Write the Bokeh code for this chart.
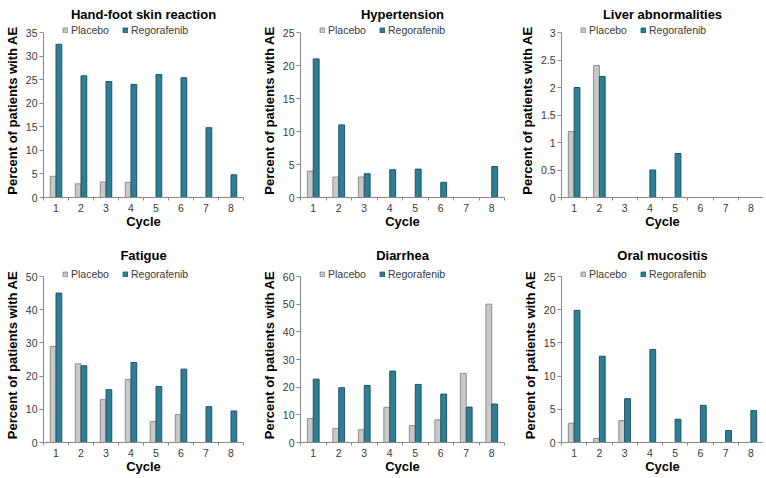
from bokeh.plotting import figure
from bokeh.layouts import gridplot
from bokeh.models import (Range1d, FixedTicker, NumeralTickFormatter, Legend,
                          LegendItem, ColumnDataSource)
from bokeh.transform import dodge
from bokeh.embed import file_html
from bokeh.resources import INLINE

# ---------------- data ----------------
cycles = [1, 2, 3, 4, 5, 6, 7, 8]
series_names = ["Placebo", "Regorafenib"]

titles = ["Hand-foot skin reaction", "Hypertension", "Liver abnormalities",
          "Fatigue", "Diarrhea", "Oral mucositis"]

hfs_placebo = [4.5, 2.9, 3.3, 3.2, 0, 0, 0, 0]
hfs_regorafenib = [32.5, 25.8, 24.6, 24.0, 26.1, 25.4, 14.8, 4.8]
htn_placebo = [4.0, 3.1, 3.1, 0, 0, 0, 0, 0]
htn_regorafenib = [21.0, 11.0, 3.6, 4.2, 4.3, 2.3, 0, 4.7]
liver_placebo = [1.2, 2.4, 0, 0, 0, 0, 0, 0]
liver_regorafenib = [2.0, 2.2, 0, 0.5, 0.8, 0, 0, 0]
fatigue_placebo = [28.9, 23.7, 12.9, 19.0, 6.3, 8.4, 0, 0]
fatigue_regorafenib = [45.0, 23.1, 15.9, 24.1, 16.9, 22.1, 10.8, 9.5]
diarrhea_placebo = [8.7, 5.1, 4.6, 12.7, 6.1, 8.2, 25.0, 50.0]
diarrhea_regorafenib = [22.9, 19.8, 20.6, 25.8, 21.0, 17.5, 12.8, 13.9]
oral_placebo = [2.9, 0.6, 3.3, 0, 0, 0, 0, 0]
oral_regorafenib = [19.9, 13.0, 6.6, 14.0, 3.5, 5.6, 1.8, 4.8]

hfs_yticks = [0, 5, 10, 15, 20, 25, 30, 35]
htn_yticks = [0, 5, 10, 15, 20, 25]
liver_yticks = [0, 0.5, 1, 1.5, 2, 2.5, 3]
fatigue_yticks = [0, 10, 20, 30, 40, 50]
diarrhea_yticks = [0, 10, 20, 30, 40, 50, 60]
oral_yticks = [0, 5, 10, 15, 20, 25]

x_label = "Cycle"
y_label = "Percent of patients with AE"

# ---------------- style ----------------
FONT = "Liberation Sans"
PLACEBO_FILL = "#c8c8c8"
PLACEBO_LINE = "#8e8e8e"
REGO_FILL = "#2f7e96"
REGO_LINE = "#1d5567"
AXIS_COLOR = "#8a8a8a"
TICK_TEXT = "#3a3a3a"
BAR_W = 0.23
LEG_PAD = 9        # pixels of frame kept above the top tick for the legend

FRAME_W = [200, 204, 202]
BORDER_L = [43, 47, 47]
BORDER_R = [10, 10, 0]
FRAME_H = [174, 175]
BORDER_T = [23, 35]
BORDER_B = [35, 35]
TITLE_STANDOFF = [4, 10]


def make_panel(title, placebo, rego, yticks, col, row):
    frame_h = FRAME_H[row]
    y_top = yticks[-1] * frame_h / (frame_h - LEG_PAD)
    src = ColumnDataSource(dict(cycle=cycles, placebo=placebo, regorafenib=rego))
    p = figure(frame_width=FRAME_W[col], frame_height=frame_h,
               output_backend="svg", toolbar_location=None, title=title,
               x_range=Range1d(cycles[0] - 0.5, cycles[-1] + 0.5),
               y_range=Range1d(yticks[0], y_top),
               min_border_left=BORDER_L[col], min_border_right=BORDER_R[col],
               min_border_top=BORDER_T[row], min_border_bottom=BORDER_B[row])
    p.outline_line_color = None
    p.background_fill_color = "white"
    p.border_fill_color = "white"
    p.xgrid.visible = False
    p.ygrid.visible = False

    p.title.align = "center"
    p.title.text_font = FONT
    p.title.text_font_size = "13px"
    p.title.text_font_style = "bold"
    p.title.text_color = "black"
    p.title.standoff = TITLE_STANDOFF[row]

    r1 = p.vbar(x=dodge("cycle", -BAR_W / 2, range=p.x_range), top="placebo",
                width=BAR_W, source=src, fill_color=PLACEBO_FILL,
                line_color=PLACEBO_LINE, line_width=1)
    r2 = p.vbar(x=dodge("cycle", BAR_W / 2, range=p.x_range), top="regorafenib",
                width=BAR_W, source=src, fill_color=REGO_FILL,
                line_color=REGO_LINE, line_width=1)

    xa = p.xaxis[0]
    xa.ticker = FixedTicker(ticks=cycles,
                            minor_ticks=[c - 0.5 for c in cycles] + [cycles[-1] + 0.5])
    xa.major_tick_in = 0
    xa.major_tick_out = 0
    xa.minor_tick_in = 0
    xa.minor_tick_out = 3
    xa.minor_tick_line_color = AXIS_COLOR
    xa.axis_line_color = AXIS_COLOR
    xa.major_label_standoff = 3
    xa.major_label_text_font = FONT
    xa.major_label_text_font_size = "10.5px"
    xa.major_label_text_line_height = 1.0
    xa.major_label_text_color = TICK_TEXT
    xa.axis_label = x_label
    xa.axis_label_text_font = FONT
    xa.axis_label_text_font_size = "13px"
    xa.axis_label_text_font_style = "bold"
    xa.axis_label_text_line_height = 1.0
    xa.axis_label_text_color = "black"
    xa.axis_label_standoff = -1

    ya = p.yaxis[0]
    ya.bounds = (yticks[0], yticks[-1])
    ya.ticker = FixedTicker(ticks=yticks, minor_ticks=[])
    ya.formatter = NumeralTickFormatter(format="0.[0]")
    ya.major_tick_in = 0
    ya.major_tick_out = 4
    ya.major_tick_line_color = AXIS_COLOR
    ya.minor_tick_line_color = None
    ya.axis_line_color = AXIS_COLOR
    ya.major_label_standoff = 2
    ya.major_label_text_font = FONT
    ya.major_label_text_font_size = "10.5px"
    ya.major_label_text_color = TICK_TEXT
    ya.axis_label = y_label
    ya.axis_label_text_font = FONT
    ya.axis_label_text_font_size = "13px"
    ya.axis_label_text_font_style = "bold"
    ya.axis_label_text_color = "black"
    ya.axis_label_standoff = 3

    legend = Legend(items=[LegendItem(label=series_names[0], renderers=[r1]),
                           LegendItem(label=series_names[1], renderers=[r2])],
                    location=(19, frame_h - 13), orientation="horizontal",
                    border_line_color=None, background_fill_alpha=0,
                    padding=0, margin=0, spacing=13, glyph_width=6,
                    glyph_height=6, label_standoff=3, label_height=11,
                    label_text_font=FONT, label_text_font_size="10.5px",
                    label_text_color=TICK_TEXT)
    p.add_layout(legend, "center")
    return p


panels = [
    make_panel(titles[0], hfs_placebo, hfs_regorafenib, hfs_yticks, 0, 0),
    make_panel(titles[1], htn_placebo, htn_regorafenib, htn_yticks, 1, 0),
    make_panel(titles[2], liver_placebo, liver_regorafenib, liver_yticks, 2, 0),
    make_panel(titles[3], fatigue_placebo, fatigue_regorafenib, fatigue_yticks, 0, 1),
    make_panel(titles[4], diarrhea_placebo, diarrhea_regorafenib, diarrhea_yticks, 1, 1),
    make_panel(titles[5], oral_placebo, oral_regorafenib, oral_yticks, 2, 1),
]

grid = gridplot([panels[0:3], panels[3:6]], toolbar_location=None)

open("out.html", "w").write(file_html(grid, INLINE))
